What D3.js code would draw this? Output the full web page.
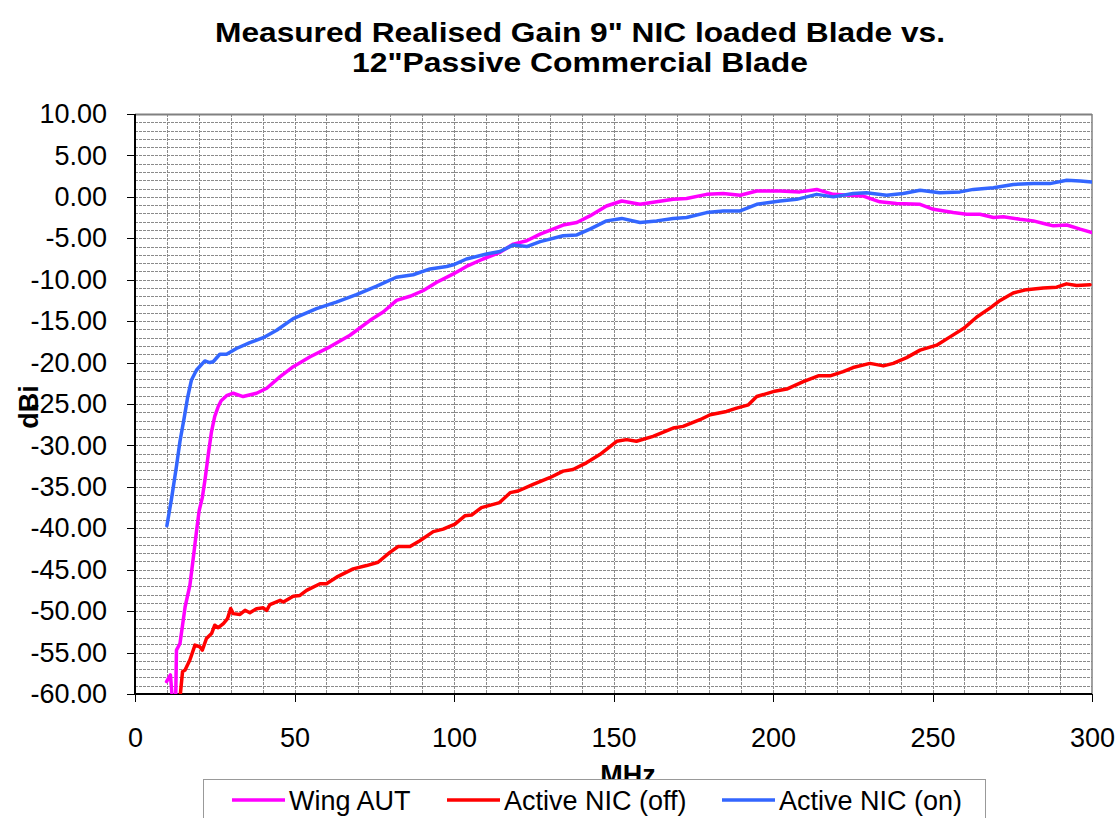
<!DOCTYPE html>
<meta charset="utf-8">
<style>
body { margin: 0; background: #fff; }
svg { font-family: "Liberation Sans", Arial, sans-serif; }
.grid line { stroke: #8a8a8a; stroke-width: 1; stroke-dasharray: 3,1; shape-rendering: crispEdges; }
.axis text { font-size: 27px; fill: #000; }
.axis path { display: none; }
.axis line { stroke: #000; stroke-width: 1; shape-rendering: crispEdges; }
.series { fill: none; stroke-width: 3.5px; stroke-linejoin: round; stroke-linecap: round; }
.title { font-size: 28px; font-weight: bold; text-anchor: middle; }
.lab { font-size: 27px; font-weight: bold; text-anchor: middle; }
.legend text { font-size: 27px; }
</style>
<body>
<script src="https://cdn.jsdelivr.net/npm/d3@7/dist/d3.min.js"></script>
<script>

// Wing AUT (magenta)
var freqAut = [9.9,11.1,11.8,12.7,13.0,14.1,15.7,17.2,18.3,19.3,20.1,21.1,22,23,24,25,26.1,27,28.7,30.8,33.9,38.1,41.3,45.5,49.6,54.9,61.1,67.4,73.7,77.8,82,86.2,90.4,94.6,99.8,103.9,109.1,114.4,118.6,122.8,127,134.2,138.5,142.6,147.8,152.6,158.3,163.5,168.7,172.9,179.2,184.4,189.7,194.9,202.2,208.4,213.7,218.9,224.1,228.3,233.5,238.7,246.1,250.3,256.5,260.7,264.9,269.1,272.2,277.4,281.6,285.8,287.9,292.1,296.3,300];
var gainAut = [-58.5,-57.7,-61,-62,-54.7,-53.9,-49.5,-46.9,-43.5,-40.3,-37.9,-36.3,-34,-31,-28.3,-26.5,-25.3,-24.6,-24.0,-23.7,-24.1,-23.7,-23.1,-21.7,-20.5,-19.3,-18.1,-16.7,-14.9,-13.9,-12.5,-12.0,-11.3,-10.3,-9.3,-8.4,-7.5,-6.7,-5.7,-5.3,-4.5,-3.4,-3.1,-2.3,-1.1,-0.5,-0.9,-0.6,-0.3,-0.2,0.3,0.4,0.2,0.7,0.7,0.6,0.9,0.3,0.2,0.1,-0.6,-0.8,-0.9,-1.5,-1.9,-2.1,-2.1,-2.5,-2.4,-2.7,-2.9,-3.3,-3.5,-3.4,-3.9,-4.3];

// Active NIC (off) (red)
var freqOff = [13.5,14.1,14.9,15.7,17.2,18.8,20.3,21.1,22.4,24,25,26.1,27.7,29,30,30.8,32.9,34.5,36,38.1,40.2,41.3,42.3,45.5,46.5,49.6,51.7,53.8,58,60,63.2,68.4,72.6,76.2,79.9,82.5,86.2,89.3,93.5,96.6,100.3,103.4,105.5,108.6,114.3,117.6,120.1,124.8,130,134.2,137.3,141.5,145.7,151,154.1,157.2,162.4,168.7,171.8,177.1,180.3,185.4,188.6,192.3,194.9,200.1,204.3,209.5,214.2,217.9,222,225.1,230.4,234.6,237.7,241.9,246.1,251.3,255.5,259.7,263.9,268.1,271.2,275.3,279.5,284.7,288.9,292,295.2,299.4];
var gainOff = [-63,-60.5,-57.3,-57.1,-55.9,-54.1,-54.3,-54.7,-53.3,-52.7,-51.7,-52.0,-51.5,-50.9,-49.7,-50.3,-50.4,-49.9,-50.2,-49.7,-49.6,-49.9,-49.2,-48.7,-48.9,-48.2,-48.1,-47.5,-46.7,-46.7,-45.9,-44.9,-44.5,-44.1,-42.9,-42.2,-42.2,-41.5,-40.4,-40.1,-39.5,-38.5,-38.4,-37.5,-36.9,-35.7,-35.5,-34.7,-33.9,-33.1,-32.9,-32.1,-31.1,-29.5,-29.3,-29.5,-28.9,-27.9,-27.7,-26.9,-26.3,-25.9,-25.5,-25.1,-24.1,-23.5,-23.2,-22.3,-21.6,-21.6,-21.1,-20.6,-20.1,-20.4,-20.1,-19.4,-18.5,-17.9,-16.9,-15.9,-14.5,-13.4,-12.5,-11.6,-11.2,-11.0,-10.9,-10.5,-10.7,-10.6];

// Active NIC (on) (blue)
var freqOn = [10,11.5,13,14.1,15.5,16.5,17.7,19.3,21.9,23.4,24.5,26.6,28.7,31.8,36,40.2,44.4,49.6,56.9,63.1,69.4,75.6,81.9,87.2,92.5,97.7,99.8,103.9,110.2,114.4,118.6,122.8,127,134.2,138.5,142.6,147.8,152.6,158.3,163.5,168.7,172.9,179.2,184.4,189.7,194.9,202.2,207.4,213.7,218.9,225.1,229.3,235.6,240.8,246.1,252.3,258.6,262.8,269.1,275.3,281.6,286.8,292.1,296.3,300];
var gainOn = [-39.7,-36.3,-32.5,-29.5,-26.5,-24.2,-22.1,-20.9,-19.8,-20.0,-19.9,-19.0,-19.0,-18.3,-17.6,-17.0,-16.1,-14.7,-13.5,-12.7,-11.8,-10.8,-9.7,-9.4,-8.7,-8.4,-8.2,-7.5,-6.9,-6.6,-5.8,-6.0,-5.4,-4.7,-4.6,-3.9,-2.9,-2.6,-3.1,-2.9,-2.6,-2.5,-1.9,-1.7,-1.7,-0.9,-0.5,-0.3,0.3,0.0,0.4,0.5,0.2,0.4,0.8,0.5,0.6,0.9,1.1,1.5,1.6,1.6,2.0,1.9,1.8];

var xTicks = [0,50,100,150,200,250,300];
var yTicks = d3.range(-60, 10.01, 5);
var titleLines = ['Measured Realised Gain 9" NIC loaded Blade vs.', '12"Passive Commercial Blade'];
var titleWidths = [730, 456];

var series = [
  {name: "Wing AUT", color: "#ff00ff", x: freqAut, y: gainAut},
  {name: "Active NIC (off)", color: "#ff0000", x: freqOff, y: gainOff},
  {name: "Active NIC (on)", color: "#3366ff", x: freqOn, y: gainOn}
];

var margin = {top: 114, right: 28, bottom: 124, left: 135},
    W = 1120, H = 818,
    width = W - margin.left - margin.right,
    height = H - margin.top - margin.bottom;

var svg = d3.select("body").append("svg")
    .attr("width", W)
    .attr("height", H);

svg.selectAll(".title")
    .data(titleLines)
  .enter().append("text")
    .attr("class", "title")
    .attr("x", 580)
    .attr("y", function(d, i) { return 42 + i * 30; })
    .attr("textLength", function(d, i) { return titleWidths[i]; })
    .attr("lengthAdjust", "spacingAndGlyphs")
    .text(function(d) { return d; });

var g = svg.append("g")
    .attr("transform", "translate(" + margin.left + "," + margin.top + ")");

var x = d3.scaleLinear().domain([0, 300]).range([0, width]);
var y = d3.scaleLinear().domain([-60, 10]).range([height, 0]);

g.append("defs").append("clipPath").attr("id", "clip")
  .append("rect").attr("width", width).attr("height", height);

// grid
g.append("g").attr("class", "grid")
  .selectAll("line").data(d3.range(1, 70)).enter().append("line")
    .attr("x1", 0).attr("x2", width)
    .attr("y1", function(d) { return Math.round(y(d - 60)) + 0.5; })
    .attr("y2", function(d) { return Math.round(y(d - 60)) + 0.5; });
g.append("g").attr("class", "grid")
  .selectAll("line").data(d3.range(10, 300, 10)).enter().append("line")
    .attr("y1", 0).attr("y2", height)
    .attr("x1", function(d) { return Math.round(x(d)) + 0.5; })
    .attr("x2", function(d) { return Math.round(x(d)) + 0.5; });

// frame
g.append("line").attr("x1", 0).attr("x2", width).attr("y1", 0.5).attr("y2", 0.5)
    .attr("stroke", "#808080").attr("stroke-width", 2);
g.append("line").attr("x1", width).attr("x2", width).attr("y1", 0).attr("y2", height)
    .attr("stroke", "#808080").attr("stroke-width", 1.5);

var fmt = function(d) { return d.toFixed(2); };

g.append("g").attr("class", "axis")
    .call(d3.axisLeft(y).tickValues(yTicks).tickFormat(fmt).tickSize(8).tickPadding(20));

g.append("g").attr("class", "axis")
    .attr("transform", "translate(0," + height + ")")
    .call(d3.axisBottom(x).tickValues(xTicks).tickSize(8).tickPadding(26));

g.append("line").attr("x1", 0).attr("x2", 0).attr("y1", 0).attr("y2", height)
    .attr("stroke", "#000").attr("stroke-width", 2);
g.append("line").attr("x1", 0).attr("x2", width).attr("y1", height).attr("y2", height)
    .attr("stroke", "#000").attr("stroke-width", 2);

var line = d3.line()
    .x(function(d) { return x(d[0]); })
    .y(function(d) { return y(d[1]); });

g.append("g").attr("clip-path", "url(#clip)")
  .selectAll("path").data(series).enter().append("path")
    .attr("class", "series")
    .attr("stroke", function(d) { return d.color; })
    .attr("d", function(d) { return line(d.x.map(function(v, i) { return [v, d.y[i]]; })); });

// axis titles
svg.append("text").attr("class", "lab")
    .attr("transform", "translate(38,407) rotate(-90)")
    .text("dBi");
svg.append("text").attr("class", "lab")
    .attr("x", 628).attr("y", 784)
    .text("MHz");

// legend
var leg = svg.append("g").attr("class", "legend");
leg.append("rect")
    .attr("x", 203.5).attr("y", 779.5).attr("width", 782).attr("height", 60)
    .attr("fill", "#fff").attr("stroke", "#999");
var legX = [232, 447, 722];
var item = leg.selectAll(".item").data(series).enter().append("g")
    .attr("transform", function(d, i) { return "translate(" + legX[i] + ",0)"; });
item.append("line")
    .attr("x1", 0).attr("x2", 53).attr("y1", 800).attr("y2", 800)
    .attr("stroke", function(d) { return d.color; }).attr("stroke-width", 3.5);
item.append("text")
    .attr("x", 57).attr("y", 810)
    .text(function(d) { return d.name; });

</script>
